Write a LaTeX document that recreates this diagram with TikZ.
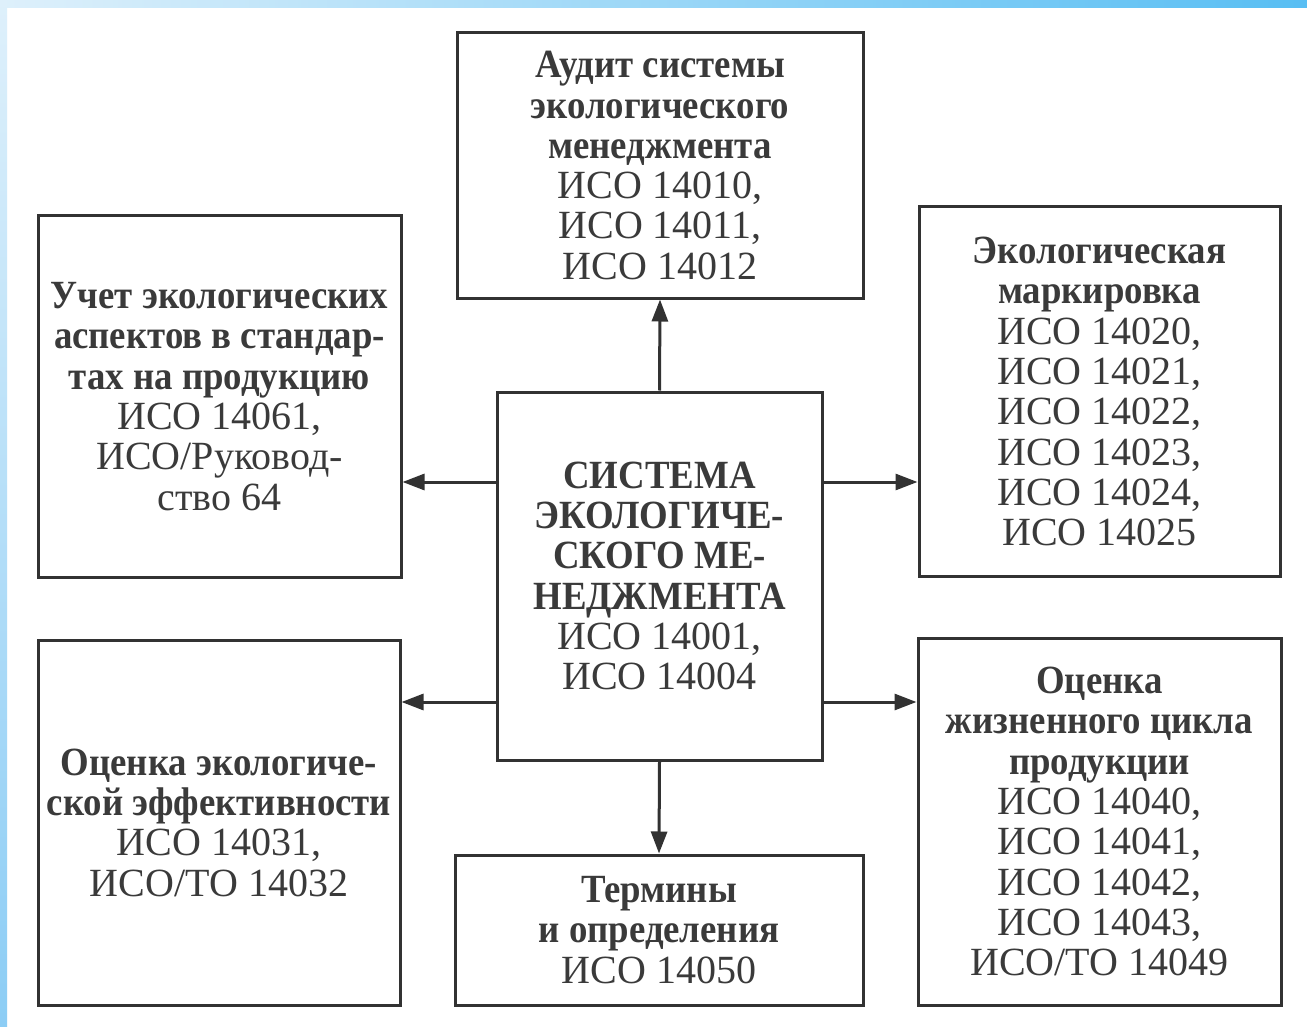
\documentclass[tikz,border=0pt]{standalone}
\usepackage{fontspec}
\setmainfont{Liberation Serif}[BoldFeatures={FakeStretch=0.92}]
\usetikzlibrary{arrows.meta}
\definecolor{ink}{RGB}{50,50,50}
\definecolor{txt}{RGB}{58,58,58}
\definecolor{skyA}{RGB}{222,240,251}
\definecolor{skyB}{RGB}{88,190,243}
\definecolor{skyC}{RGB}{140,205,245}
\begin{document}
\begin{tikzpicture}[x=1pt,y=-1pt,
  box/.style={draw=ink, line width=3pt, inner sep=0pt, align=center, text=txt,
    font=\fontsize{40}{40.3}\selectfont},
  arr/.style={draw=ink, line width=3pt, -{Triangle[length=22pt,width=16pt]}}]
\useasboundingbox (0,0) rectangle (1307,1027);
\fill[white] (0,0) rectangle (1307,1027);
% slide decoration
\shade[left color=skyA, right color=skyB] (0,0) rectangle (1307,8);
\shade[top color=skyA, bottom color=skyC] (0,0) rectangle (7,1027);

\node[box, minimum width=406pt, minimum height=265pt] (audit) at (660,165.5)
  {\textbf{Аудит системы}\\ \textbf{экологического}\\ \textbf{менеджмента}\\ ИСО 14010,\\ ИСО 14011,\\ ИСО 14012};
\node[box, minimum width=363pt, minimum height=361pt] (uchet) at (219.5,396.5)
  {\textbf{Учет экологических}\\ \textbf{аспектов в стандар-}\\ \textbf{тах на продукцию}\\ ИСО 14061,\\ ИСО/Руковод-\\ ство 64};
\node[box, minimum width=361pt, minimum height=369pt] (mark) at (1099.5,391.5)
  {\textbf{Экологическая}\\ \textbf{маркировка}\\ ИСО 14020,\\ ИСО 14021,\\ ИСО 14022,\\ ИСО 14023,\\ ИСО 14024,\\ ИСО 14025};
\node[box, minimum width=325pt, minimum height=368pt] (sem) at (659.5,576)
  {\textbf{СИСТЕМА}\\ \textbf{ЭКОЛОГИЧЕ-}\\ \textbf{СКОГО МЕ-}\\ \textbf{НЕДЖМЕНТА}\\ ИСО 14001,\\ ИСО 14004};
\node[box, minimum width=362pt, minimum height=365pt] (eff) at (219,822.5)
  {\textbf{Оценка экологиче-}\\ \textbf{ской эффективности}\\ ИСО 14031,\\ ИСО/ТО 14032};
\node[box, minimum width=408pt, minimum height=150pt] (term) at (659,930)
  {\textbf{Термины}\\ \textbf{и определения}\\ ИСО 14050};
\node[box, minimum width=363pt, minimum height=367pt] (lca) at (1099.5,821.5)
  {\textbf{Оценка}\\ \textbf{жизненного цикла}\\ \textbf{продукции}\\ ИСО 14040,\\ ИСО 14041,\\ ИСО 14042,\\ ИСО 14043,\\ ИСО/ТО 14049};

\coordinate (yA) at (0,482);
\coordinate (yB) at (0,702);
\draw[arr] (sem.north) -- (audit.south);
\draw[arr] (sem.south) -- (term.north);
\draw[arr] (sem.west |- yA) -- (uchet.east |- yA);
\draw[arr] (sem.east |- yA) -- (mark.west |- yA);
\draw[arr] (sem.west |- yB) -- (eff.east |- yB);
\draw[arr] (sem.east |- yB) -- (lca.west |- yB);
\end{tikzpicture}
\end{document}
